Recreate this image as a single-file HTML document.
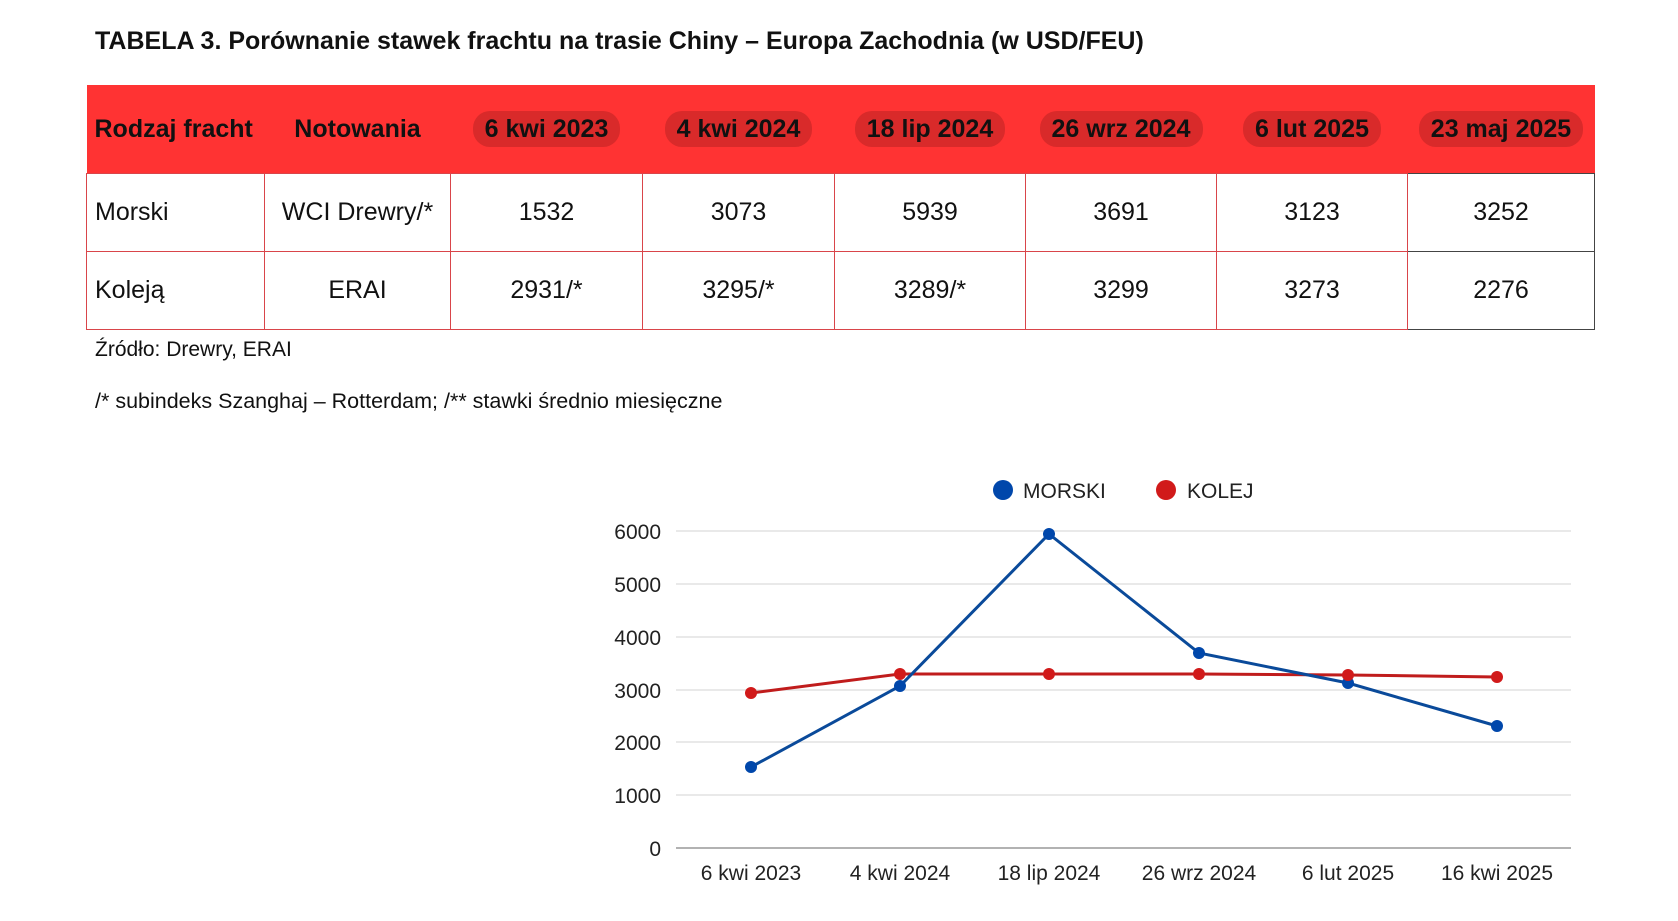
<!DOCTYPE html>
<html><head><meta charset="utf-8"><style>
body{margin:0;width:1678px;height:921px;background:#fff;font-family:"Liberation Sans",sans-serif;position:relative;overflow:hidden;color:#111}
.t{position:absolute;white-space:nowrap}
table{position:absolute;left:86px;top:85px;border-collapse:collapse;table-layout:fixed}
td{border:1px solid #d9454a;font-size:25px;text-align:center;padding:0;height:77px}
th{background:#ff3333;height:88px;font-size:25px;font-weight:bold;padding:0;border:0;text-align:center}
th span{background:#d92a2a;border-radius:17px;padding:4px 12px}
th.l{text-align:left;padding-left:8px}
td.l{text-align:left;padding-left:8px}
td.k{border:1px solid #444}
</style></head><body>
<div class="t" style="left:95px;top:27px;font-size:25px;font-weight:bold">TABELA 3. Porównanie stawek frachtu na trasie Chiny – Europa Zachodnia (w USD/FEU)</div>
<table>
<colgroup><col style="width:178px"><col style="width:186px"><col style="width:192px"><col style="width:192px"><col style="width:191px"><col style="width:191px"><col style="width:191px"><col style="width:187px"></colgroup>
<tr><th class="l">Rodzaj fracht</th><th>Notowania</th><th><span>6 kwi 2023</span></th><th><span>4 kwi 2024</span></th><th><span>18 lip 2024</span></th><th><span>26 wrz 2024</span></th><th><span>6 lut 2025</span></th><th><span>23 maj 2025</span></th></tr>
<tr><td class="l">Morski</td><td>WCI Drewry/*</td><td>1532</td><td>3073</td><td>5939</td><td>3691</td><td>3123</td><td class="k">3252</td></tr>
<tr><td class="l">Koleją</td><td>ERAI</td><td>2931/*</td><td>3295/*</td><td>3289/*</td><td>3299</td><td>3273</td><td class="k">2276</td></tr>
</table>
<div class="t" style="left:95px;top:338px;font-size:21px">Źródło: Drewry, ERAI</div>
<div class="t" style="left:95px;top:389px;font-size:21.5px">/* subindeks Szanghaj – Rotterdam; /** stawki średnio miesięczne</div>
<svg width="1678" height="921" style="position:absolute;left:0;top:0" font-family="Liberation Sans, sans-serif">
<g stroke="#e2e2e2" stroke-width="1.5">
<line x1="676" x2="1571" y1="531" y2="531"/><line x1="676" x2="1571" y1="584" y2="584"/><line x1="676" x2="1571" y1="637" y2="637"/><line x1="676" x2="1571" y1="690" y2="690"/><line x1="676" x2="1571" y1="742" y2="742"/><line x1="676" x2="1571" y1="795" y2="795"/>
</g>
<line x1="676" x2="1571" y1="848" y2="848" stroke="#999" stroke-width="1.5"/>
<g font-size="21" fill="#222" text-anchor="end">
<text x="661" y="539">6000</text><text x="661" y="592">5000</text><text x="661" y="645">4000</text><text x="661" y="698">3000</text><text x="661" y="750">2000</text><text x="661" y="803">1000</text><text x="661" y="856">0</text>
</g>
<g font-size="21" fill="#222" text-anchor="middle">
<text x="751" y="880">6 kwi 2023</text><text x="900" y="880">4 kwi 2024</text><text x="1049" y="880">18 lip 2024</text><text x="1199" y="880">26 wrz 2024</text><text x="1348" y="880">6 lut 2025</text><text x="1497" y="880">16 kwi 2025</text>
</g>
<circle cx="1003" cy="490" r="10" fill="#0047ab"/><text x="1023" y="498" font-size="21" fill="#222">MORSKI</text>
<circle cx="1166" cy="490" r="10" fill="#d11a1a"/><text x="1187" y="498" font-size="21" fill="#222">KOLEJ</text>
<polyline fill="none" stroke="#c01c1c" stroke-width="3" points="751,693 900,674 1049,674 1199,674 1348,675 1497,677"/>
<polyline fill="none" stroke="#0a4a9a" stroke-width="3" points="751,767 900,686 1049,534 1199,653 1348,683 1497,726"/>
<g fill="#0047ab"><circle cx="751" cy="767" r="6"/><circle cx="900" cy="686" r="6"/><circle cx="1049" cy="534" r="6"/><circle cx="1199" cy="653" r="6"/><circle cx="1348" cy="683" r="6"/><circle cx="1497" cy="726" r="6"/></g>
<g fill="#d11a1a"><circle cx="751" cy="693" r="6"/><circle cx="900" cy="674" r="6"/><circle cx="1049" cy="674" r="6"/><circle cx="1199" cy="674" r="6"/><circle cx="1348" cy="675" r="6"/><circle cx="1497" cy="677" r="6"/></g>
</svg>
</body></html>
